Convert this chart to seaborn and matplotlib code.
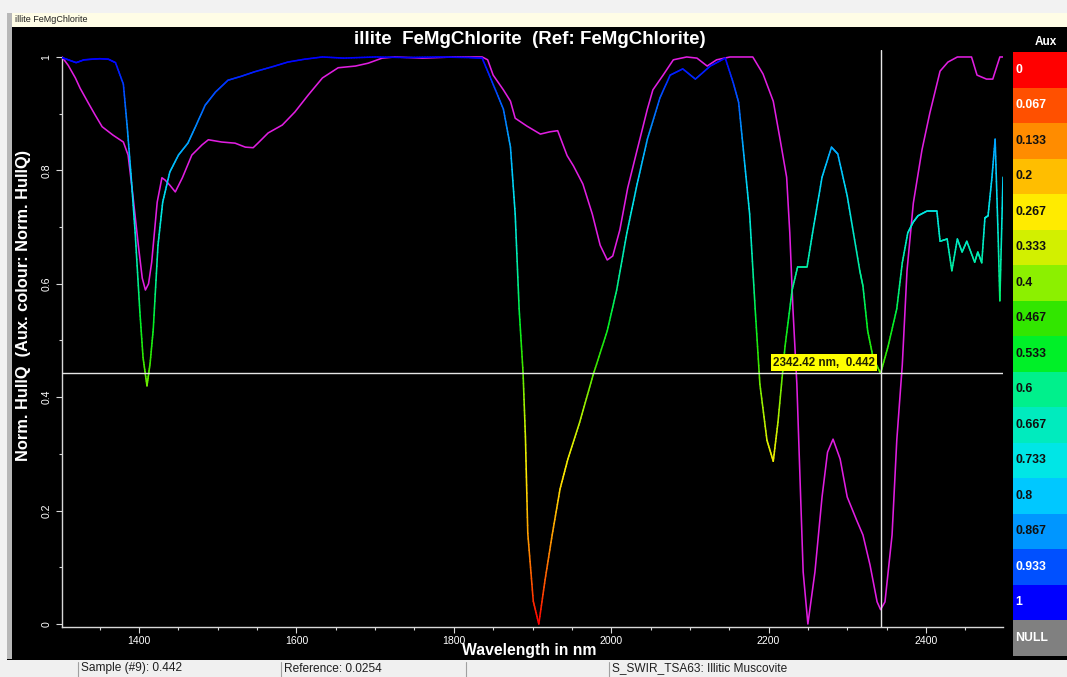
import numpy as np
import matplotlib
matplotlib.use("Agg")
import matplotlib.pyplot as plt
import seaborn as sns
import pandas as pd
from matplotlib.collections import LineCollection
from matplotlib.colors import LinearSegmentedColormap
from matplotlib.patches import Rectangle
from matplotlib.ticker import MultipleLocator

# ---------------- data ----------------
sample_nm = [1300, 1310, 1320, 1330, 1340, 1350, 1361, 1370, 1380, 1385, 1390, 1395,
             1401, 1405, 1410, 1414, 1418, 1424, 1430, 1439, 1450, 1462, 1471, 1484,
             1497, 1513, 1530, 1547, 1570, 1589, 1610, 1633, 1660, 1700, 1740, 1780,
             1820, 1836, 1846, 1863, 1872, 1878, 1883, 1888, 1891, 1894, 1901, 1908,
             1916, 1925, 1935, 1945, 1960, 1977, 1995, 2007, 2020, 2033, 2046, 2062,
             2075, 2091, 2107, 2126, 2145, 2155, 2162, 2168, 2176, 2183, 2189, 2198,
             2206, 2212, 2221, 2230, 2237, 2249, 2256, 2268, 2280, 2288, 2300, 2316,
             2320, 2326, 2333, 2342.42, 2352, 2363, 2370, 2377, 2384, 2390, 2401, 2414,
             2418, 2427, 2433, 2440, 2446, 2452, 2462, 2466, 2471, 2475, 2479, 2484,
             2488, 2492, 2494, 2498]
sample_val = [1.0, 0.995, 0.99, 0.995, 0.996, 0.997, 0.996, 0.99, 0.952, 0.875, 0.787, 0.69,
              0.55, 0.47, 0.42, 0.46, 0.52, 0.668, 0.744, 0.797, 0.827, 0.848, 0.875, 0.915,
              0.938, 0.959, 0.966, 0.974, 0.983, 0.991, 0.996, 1.0, 0.998, 1.0, 0.999, 1.0,
              0.999, 0.998, 0.965, 0.908, 0.841, 0.723, 0.556, 0.443, 0.33, 0.16, 0.04, 0.0,
              0.078, 0.157, 0.238, 0.291, 0.356, 0.439, 0.517, 0.589, 0.69, 0.776, 0.855, 0.928,
              0.968, 0.979, 0.961, 0.984, 0.998, 0.955, 0.92, 0.836, 0.723, 0.556, 0.423, 0.324,
              0.287, 0.356, 0.49, 0.589, 0.63, 0.63, 0.69, 0.788, 0.841, 0.829, 0.755, 0.623,
              0.596, 0.517, 0.469, 0.442, 0.49, 0.556, 0.637, 0.69, 0.709, 0.72, 0.728, 0.728,
              0.675, 0.679, 0.623, 0.679, 0.656, 0.675, 0.638, 0.656, 0.637, 0.716, 0.72, 0.788,
              0.855, 0.675, 0.57, 0.788]

ref_nm = [1302, 1310, 1319, 1325, 1335, 1344, 1353, 1367, 1380, 1386, 1392, 1399, 1404,
          1408, 1412, 1416, 1423, 1429, 1433, 1439, 1446, 1455, 1467, 1480, 1488, 1505,
          1522, 1535, 1545, 1551, 1564, 1582, 1598, 1615, 1633, 1653, 1675, 1691, 1709,
          1725, 1760, 1800, 1836, 1843, 1850, 1863, 1872, 1878, 1893, 1910, 1922, 1932,
          1944, 1952, 1964, 1976, 1986, 1995, 2002, 2011, 2021, 2033, 2046, 2053, 2066,
          2079, 2096, 2109, 2122, 2134, 2151, 2180, 2193, 2206, 2214, 2223, 2227, 2231,
          2236, 2240, 2244, 2250, 2259, 2268, 2275, 2282, 2291, 2300, 2312, 2320, 2329,
          2338, 2342.42, 2348, 2357, 2363, 2370, 2376, 2384, 2395, 2405, 2418, 2428, 2440,
          2458, 2465, 2477, 2485, 2494, 2498]
ref_val = [1.0, 0.985, 0.963, 0.945, 0.92, 0.898, 0.877, 0.862, 0.85, 0.827, 0.757, 0.668, 0.61,
           0.589, 0.6, 0.638, 0.744, 0.787, 0.783, 0.774, 0.762, 0.787, 0.827, 0.845, 0.854, 0.85,
           0.848, 0.841, 0.84, 0.848, 0.866, 0.88, 0.903, 0.933, 0.963, 0.981, 0.984, 0.989, 0.998,
           1.0, 0.998, 1.0, 1.0, 0.995, 0.968, 0.942, 0.922, 0.892, 0.878, 0.864, 0.868, 0.87,
           0.826, 0.808, 0.776, 0.723, 0.668, 0.642, 0.649, 0.695, 0.769, 0.836, 0.908, 0.942, 0.968,
           0.995, 1.0, 0.998, 0.984, 0.995, 1.0, 1.0, 0.97, 0.922, 0.86, 0.788, 0.69, 0.556,
           0.423, 0.257, 0.092, 0.0, 0.092, 0.224, 0.303, 0.326, 0.291, 0.224, 0.183, 0.157, 0.104,
           0.039, 0.0254, 0.039, 0.157, 0.324, 0.457, 0.623, 0.742, 0.836, 0.901, 0.975, 0.991, 1.0,
           1.0, 0.968, 0.961, 0.961, 1.0, 1.0]

cursor_nm = 2342.42
cursor_sample = 0.442
cursor_ref = 0.0254

aux_levels = ["0", "0.067", "0.133", "0.2", "0.267", "0.333", "0.4", "0.467",
              "0.533", "0.6", "0.667", "0.733", "0.8", "0.867", "0.933", "1"]
aux_colors = ["#ff0000", "#ff5000", "#ff8c00", "#ffbe00", "#ffeb00", "#d2f000",
              "#8cf000", "#32e600", "#00f028", "#00f08c", "#00ebbe", "#00e6e6",
              "#00c8ff", "#0096ff", "#0050ff", "#0000ff"]
aux_text_dark = [False, False, True, True, True, True, True, True,
                 True, True, True, True, True, True, False, False]

x_ticks = [1400, 1600, 1800, 2000, 2200, 2400]
y_ticks = [0, 0.2, 0.4, 0.6, 0.8, 1]
y_tick_labels = ["0", "0.2", "0.4", "0.6", "0.8", "1"]

title = "illite  FeMgChlorite  (Ref: FeMgChlorite)"
window_caption = "illite FeMgChlorite"
status_cells = ["Sample (#9): 0.442", "Reference: 0.0254", "", "S_SWIR_TSA63: Illitic Muscovite"]

# ---------------- style ----------------
sns.set_style("dark")
plt.rcParams['font.family'] = ['Liberation Sans', 'DejaVu Sans']

W, H = 1067, 677
fig = plt.figure(figsize=(W / 100, H / 100), dpi=100, facecolor="black")


def fx(px):
    return px / W


def fy(py):
    return 1 - py / H


def frect(x0, y0, x1, y1, color, z=0):
    fig.patches.append(Rectangle((fx(x0), fy(y1)), fx(x1) - fx(x0), fy(y0) - fy(y1),
                                 transform=fig.transFigure, facecolor=color,
                                 edgecolor="none", lw=0, zorder=z))


# window chrome
frect(0, 0, W, 13, "#f2f2f2")
frect(12, 13, W, 27, "#fffde6")
frect(0, 13, 7, 677, "#f2f2f2")
frect(7, 13, 12, 659, "#b8b8b8")
frect(0, 660, W, 677, "#f0f0f0")
fig.text(fx(15), fy(20), window_caption, fontsize=6.5, color="#202020", va="center", ha="left")

# status bar cells
cell_x = [78, 281, 466, 609]
for cx, txt in zip(cell_x, status_cells):
    fig.lines.append(plt.Line2D([fx(cx), fx(cx)], [fy(662), fy(677)], transform=fig.transFigure,
                                color="#a0a0a0", lw=0.8))
    fig.text(fx(cx + 3), fy(668.5), txt, fontsize=8.6, color="#202020", va="center", ha="left")

# ---------------- main axes ----------------
ax = fig.add_axes([fx(62), fy(627), fx(1003) - fx(62), fy(50) - fy(627)])
ax.set_facecolor("black")
ax.grid(False)
ax.set_xlim(1302, 2498)
ax.set_ylim(-0.0053, 1.0123)

cmap = LinearSegmentedColormap.from_list("aux", aux_colors)

# reference spectrum (magenta)
ref_df = pd.DataFrame({"nm": ref_nm, "val": ref_val})
sns.lineplot(data=ref_df, x="nm", y="val", ax=ax, color="#e01ee0", lw=1.15,
             estimator=None, sort=False, zorder=3)

# sample spectrum coloured by its own value
xs = np.asarray(sample_nm, float)
ys = np.asarray(sample_val, float)
segs, cols = [], []
for i in range(len(xs) - 1):
    t = np.linspace(0, 1, 13)
    px_ = xs[i] + (xs[i + 1] - xs[i]) * t
    py_ = ys[i] + (ys[i + 1] - ys[i]) * t
    for j in range(len(t) - 1):
        segs.append([(px_[j], py_[j]), (px_[j + 1], py_[j + 1])])
        cols.append(cmap(0.5 * (py_[j] + py_[j + 1])))
ax.add_collection(LineCollection(segs, colors=cols, linewidths=1.15, zorder=4,
                                 capstyle="round"))

# cursor cross-hair
ax.axhline(cursor_sample, color="#e6e6e6", lw=1.0, zorder=5)
ax.axvline(cursor_nm, color="#e6e6e6", lw=1.0, zorder=5)
ax.annotate(f"{cursor_nm:.2f} nm,  {cursor_sample:.3f}", xy=(cursor_nm, cursor_sample),
            xytext=(-4, 3.5), textcoords="offset points", ha="right", va="bottom",
            fontsize=8.4, fontweight="bold", color="#202000", zorder=6,
            bbox=dict(boxstyle="square,pad=0.2", fc="#ffff00", ec="none"))

# axes decoration
for s in ["top", "right"]:
    ax.spines[s].set_visible(False)
for s in ["left", "bottom"]:
    ax.spines[s].set_visible(True)
    ax.spines[s].set_color("#d8d8d8")
    ax.spines[s].set_linewidth(1.0)
ax.spines["left"].set_bounds(-0.0053, 1.0)

ax.set_xticks(x_ticks)
ax.set_xticklabels([str(v) for v in x_ticks])
ax.xaxis.set_minor_locator(MultipleLocator(50))
ax.set_yticks(y_ticks)
ax.set_yticklabels(y_tick_labels, rotation=90, va="center")
ax.yaxis.set_minor_locator(MultipleLocator(0.1))
ax.tick_params(which="both", direction="out", colors="#d8d8d8", labelcolor="white",
               labelsize=7.6, bottom=True, left=True)
ax.tick_params(which="major", length=4, width=0.8)
ax.tick_params(which="minor", length=2.5, width=0.8)
ax.tick_params(axis="x", pad=2.5)
ax.set_xlabel("")
ax.set_ylabel("")

fig.text(fx(530), fy(39), title, ha="center", va="center", color="white",
         fontsize=13.5, fontweight="bold")
fig.text(fx(529), fy(650), "Wavelength in nm", ha="center", va="center", color="white",
         fontsize=11.3, fontweight="bold", zorder=10)
fig.text(fx(24), fy(305), "Norm. HullQ  (Aux. colour: Norm. HullQ)", ha="center", va="center",
         rotation=90, color="white", fontsize=11.8, fontweight="bold")

# ---------------- aux colour key ----------------
fig.text(fx(1046), fy(42), "Aux", ha="center", va="center", color="white",
         fontsize=8.5, fontweight="bold")
box_top, box_h = 52.0, 35.5
for i, (lab, col, dark) in enumerate(zip(aux_levels + ["NULL"], aux_colors + ["#808080"],
                                        aux_text_dark + [False])):
    y0 = box_top + i * box_h
    frect(1013, y0, W, y0 + box_h, col)
    fig.text(fx(1015), fy(y0 + box_h / 2), lab, ha="left", va="center",
             color="#101010" if dark else "white", fontsize=8.8, fontweight="bold")

fig.savefig("out.png", dpi=100, facecolor="black")
